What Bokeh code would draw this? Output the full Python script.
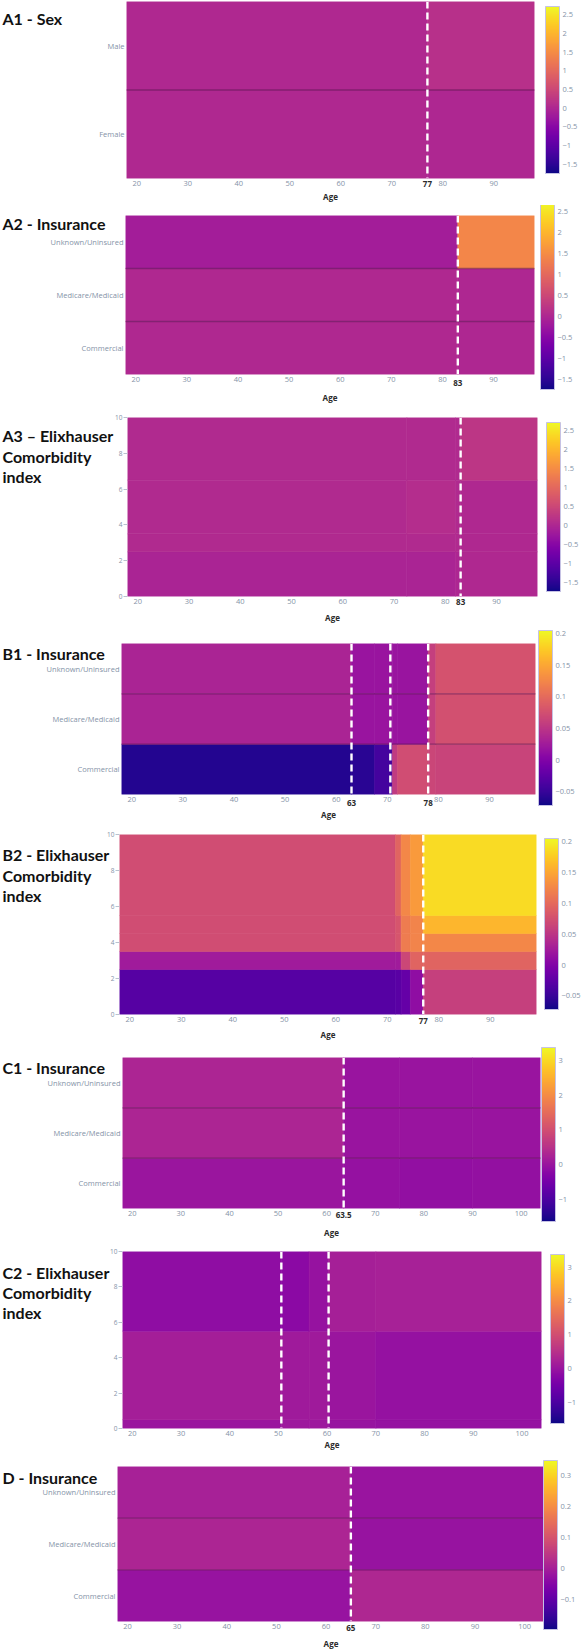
import numpy as np
from bokeh.plotting import figure
from bokeh.layouts import column
from bokeh.models import (LinearColorMapper, ColorBar, FixedTicker, Span, GridBox, Plot,
                          Range1d, ColumnDataSource, CustomJSTickFormatter)
from bokeh.core.properties import value
from bokeh.palettes import Plasma256
from bokeh.embed import file_html
from bokeh.resources import INLINE

# ---------------- data ----------------
SEX = ["Female", "Male"]                                      # bottom -> top
INSURANCE = ["Commercial", "Medicare/Medicaid", "Unknown/Uninsured"]
ELIX_TICKS = [0, 2, 4, 6, 8, 10]

AGE_TICKS_A = [20, 30, 40, 50, 60, 70, 80, 90]
AGE_TICKS_C = [20, 30, 40, 50, 60, 70, 80, 90, 100]

# A1 - Sex
A1_AGE = [18, 77, 98]
A1_Z = [[0.02, 0.00],      # Female
        [0.02, 0.15]]      # Male
A1_CUTS = [77]

# A2 - Insurance
A2_AGE = [18, 83, 98]
A2_Z = [[0.02, 0.00],      # Commercial
        [0.02, 0.00],      # Medicare/Medicaid
        [-0.16, 1.42]]     # Unknown/Uninsured
A2_CUTS = [83]

# A3 - Elixhauser comorbidity index
A3_AGE = [18, 72.5, 82, 83, 98]
A3_ELIX = [0, 2.5, 3.5, 6.5, 10]
A3_Z = [[-0.05, -0.05, -0.02, 0.02],
        [0.04, 0.04, 0.04, 0.02],
        [0.04, 0.09, 0.04, 0.02],
        [0.04, 0.04, 0.04, 0.24]]
A3_CUTS = [83]

# B1 - Insurance
B1_AGE = [18, 63, 67.5, 71, 72, 78, 79.5, 99]
B1_Z = [[-0.062, -0.058, -0.042, 0.055, 0.072, 0.066, 0.064],
        [0.033, 0.018, 0.018, 0.018, 0.018, 0.060, 0.076],
        [0.033, 0.018, 0.018, 0.018, 0.018, 0.060, 0.078]]
B1_CUTS = [63, 70.6, 78]
B1_CUT_LABELS = [63, 78]

# B2 - Elixhauser comorbidity index
B2_AGE = [18, 71.6, 72.7, 74.5, 77, 99]
B2_ELIX = [0, 2.5, 3.5, 4.5, 5.5, 10]
B2_Z = [[-0.030, -0.028, -0.019, 0.011, 0.061],
        [0.025, 0.025, 0.067, 0.094, 0.094],
        [0.072, 0.080, 0.116, 0.122, 0.125],
        [0.072, 0.080, 0.116, 0.122, 0.161],
        [0.072, 0.094, 0.125, 0.141, 0.186]]
B2_CUTS = [77]

# C1 - Insurance
C1_AGE = [18, 63.5, 75, 90, 104]
C1_Z = [[0.02, -0.05, -0.10, -0.07],
        [0.30, 0.00, 0.00, 0.00],
        [0.30, 0.00, 0.00, 0.00]]
C1_CUTS = [63.5]

# C2 - Elixhauser comorbidity index
C2_AGE = [18, 50.6, 56.3, 60.3, 70, 104]
C2_ELIX = [0, 0.5, 5.5, 10]
C2_Z = [[0.02, 0.06, 0.06, -0.02, -0.06],
        [0.17, 0.095, 0.095, 0.02, -0.05],
        [-0.13, -0.20, -0.03, 0.19, 0.21]]
C2_CUTS = [50.6, 60.3]
C2_CUT_LABELS = []

# D - Insurance
D_AGE = [18, 65, 104]
D_Z = [[-0.022, 0.016],
       [0.012, -0.022],
       [0.005, -0.020]]
D_CUTS = [65]

# colour scales
A_SCALE = (-1.75, 2.72)
A_SCALE_TICKS = [-1.5, -1, -0.5, 0, 0.5, 1, 1.5, 2, 2.5]
B_SCALE = (-0.072, 0.205)
B_SCALE_TICKS = [-0.05, 0, 0.05, 0.1, 0.15, 0.2]
C_SCALE = (-1.63, 3.37)
C_SCALE_TICKS = [-1, 0, 1, 2, 3]
D_SCALE = (-0.197, 0.348)
D_SCALE_TICKS = [-0.2, -0.1, 0, 0.1, 0.2, 0.3]

# ---------------- styling ----------------
W = 588
FONT = "Open Sans"
TITLE_FONT = "Lato"
TICK_COLOR = "#8593a7"
DARK = "#2b2b2b"

# each panel keeps its own frame box (no alignment across the stacked plots)
HAS_FRAME_ALIGN = "frame_align" in Plot.properties()
FIG_EXTRA = dict(frame_align=False) if HAS_FRAME_ALIGN else {}


def heatmap(geom, age, z, scale, scale_ticks, age_ticks, xlim, cuts,
            rows=None, yedges=None):
    h, t, b, fl, fr, cbx, cbtop, cbbot, agestand = geom

    if rows is not None:
        ylim = (-0.5, len(rows) - 0.5)
        edges = list(np.arange(len(rows) + 1) - 0.5)
    else:
        ylim = (yedges[0], yedges[-1])
        edges = yedges

    p = figure(width=W, height=h, output_backend="svg", toolbar_location=None,
               title=None, x_range=Range1d(*xlim), y_range=Range1d(*ylim),
               min_border_left=fl, min_border_right=W - fr,
               min_border_top=t, min_border_bottom=b,
               background_fill_color="white", border_fill_color="white",
               outline_line_color=None, **FIG_EXTRA)
    p.grid.visible = False

    mapper = LinearColorMapper(palette=Plasma256, low=scale[0], high=scale[1])
    left, right, bottom, top, val = [], [], [], [], []
    for j, row in enumerate(z):
        for i, v in enumerate(row):
            left.append(age[i]); right.append(age[i + 1])
            bottom.append(edges[j]); top.append(edges[j + 1]); val.append(v)
    src = ColumnDataSource(dict(left=left, right=right, bottom=bottom, top=top, z=val))
    p.quad(left="left", right="right", bottom="bottom", top="top", source=src,
           fill_color={"field": "z", "transform": mapper},
           line_color={"field": "z", "transform": mapper}, line_width=0.6)

    if rows is not None:
        for k in range(1, len(rows)):
            p.add_layout(Span(location=k - 0.5, dimension="width",
                              line_color="#5e1656", line_alpha=0.55, line_width=1.3))

    for c in cuts:
        p.add_layout(Span(location=c, dimension="height", line_color="white",
                          line_width=2.4, line_dash="7 4"))

    # x axis
    xa = p.xaxis[0]
    xa.ticker = FixedTicker(ticks=age_ticks)
    xa.axis_line_color = None
    xa.major_tick_line_color = None
    xa.minor_tick_line_color = None
    xa.major_tick_out = 0
    xa.major_tick_in = 0
    xa.major_label_standoff = 2
    xa.major_label_text_font = FONT
    xa.major_label_text_font_size = "7.5px"
    xa.major_label_text_color = TICK_COLOR
    xa.axis_label = "Age"
    xa.axis_label_text_font = FONT
    xa.axis_label_text_font_style = "bold"
    xa.axis_label_text_font_size = "8px"
    xa.axis_label_text_color = DARK
    xa.axis_label_standoff = agestand

    # y axis
    ya = p.yaxis[0]
    ya.axis_line_color = None
    ya.minor_tick_line_color = None
    ya.major_label_text_font = FONT
    ya.major_label_text_font_size = "7.5px"
    ya.major_label_text_color = TICK_COLOR
    if rows is not None:
        ya.ticker = FixedTicker(ticks=list(range(len(rows))))
        ya.major_label_overrides = {k: r for k, r in enumerate(rows)}
        ya.major_tick_line_color = None
        ya.major_tick_out = 0
        ya.major_tick_in = 0
        ya.major_label_standoff = 2
    else:
        ya.ticker = FixedTicker(ticks=ELIX_TICKS)
        ya.major_tick_line_color = "#b9c2cf"
        ya.major_tick_out = 4
        ya.major_tick_in = 0
        ya.major_label_standoff = 1
        ya.major_label_text_font_size = "6.5px"

    frame_bottom_local = h - b
    cb = ColorBar(color_mapper=mapper, ticker=FixedTicker(ticks=scale_ticks),
                  formatter=CustomJSTickFormatter(code="return String(tick).replace('-', '\u2212')"),
                  location=(cbx - fl, frame_bottom_local - cbbot), width=14, height=cbbot - cbtop,
                  padding=0, margin=0, label_standoff=3,
                  major_tick_line_color=None, minor_tick_line_color=None,
                  bar_line_color="#c6c2e4", bar_line_width=1,
                  major_label_text_font=FONT, major_label_text_font_size="7.5px",
                  major_label_text_color=TICK_COLOR,
                  background_fill_alpha=0, border_line_color=None)
    p.add_layout(cb)
    return p


def annotations(geom, xlim, title_lines, title_tops, cut_labels):
    """Transparent layer over a heatmap panel: panel title and bold cut-point labels.
    x follows the panel's age scale, y is measured in pixels from the panel top."""
    h, t, b, fl, fr = geom[:5]
    ppx = (fr - fl) / (xlim[1] - xlim[0])
    xr = Range1d(xlim[0] - fl / ppx, xlim[1] + (W - fr) / ppx)
    o = figure(width=W, height=h, output_backend="svg", toolbar_location=None,
               title=None, x_range=xr, y_range=Range1d(h, 0),
               x_axis_location=None, y_axis_location=None,
               min_border=0, min_border_left=0, min_border_right=0,
               min_border_top=0, min_border_bottom=0,
               background_fill_alpha=0, border_fill_alpha=0, outline_line_color=None,
               **FIG_EXTRA)
    o.grid.visible = False
    o.text(x=[xr.start + 2 / ppx] * len(title_lines), y=title_tops, text=title_lines,
           text_font=value(TITLE_FONT), text_font_size="16px", text_font_style="bold",
           text_color="#111111", text_baseline="alphabetic", text_align="left")
    if cut_labels:
        o.text(x=cut_labels, y=[h - b + 2] * len(cut_labels),
               text=["%g" % c for c in cut_labels],
               text_font=value(FONT), text_font_size="8px", text_font_style="bold",
               text_color=DARK, text_baseline="top", text_align="center")
    return o


# geometry: height, top, bottom, frame left, frame right, bar x, bar top, bar bottom, "Age" standoff
# (bar positions and title baselines are page coordinates)
specs = [
    dict(geom=(205, 1, 27, 126, 534, 545, 6, 173, 2), title=["A1 - Sex"], base=[18],
         age=A1_AGE, z=A1_Z, scale=A_SCALE, st=A_SCALE_TICKS, ticks=AGE_TICKS_A,
         xlim=(18, 98), cuts=A1_CUTS, cl=A1_CUTS, rows=SEX),
    dict(geom=(200, 10, 28, 125, 534, 540, 205, 392, 7), title=["A2 - Insurance"], base=[223],
         age=A2_AGE, z=A2_Z, scale=A_SCALE, st=A_SCALE_TICKS, ticks=AGE_TICKS_A,
         xlim=(18, 98), cuts=A2_CUTS, cl=A2_CUTS, rows=INSURANCE),
    dict(geom=(223, 12, 32, 127, 537, 546, 422, 591, 5),
         title=["A3 \u2013 Elixhauser", "Comorbidity", "index"], base=[435, 455.5, 476],
         age=A3_AGE, z=A3_Z, scale=A_SCALE, st=A_SCALE_TICKS, ticks=AGE_TICKS_A,
         xlim=(18, 98), cuts=A3_CUTS, cl=A3_CUTS, yedges=A3_ELIX),
    dict(geom=(194, 15, 25, 121, 535, 538, 633, 808, 4), title=["B1 - Insurance"], base=[653],
         age=B1_AGE, z=B1_Z, scale=B_SCALE, st=B_SCALE_TICKS, ticks=AGE_TICKS_A,
         xlim=(18, 99), cuts=B1_CUTS, cl=B1_CUT_LABELS, rows=INSURANCE),
    dict(geom=(220, 12, 27, 119, 536, 544, 839, 1010, 4),
         title=["B2 - Elixhauser", "Comorbidity", "index"], base=[854, 874.5, 895],
         age=B2_AGE, z=B2_Z, scale=B_SCALE, st=B_SCALE_TICKS, ticks=AGE_TICKS_A,
         xlim=(18, 99), cuts=B2_CUTS, cl=B2_CUTS, yedges=B2_ELIX),
    dict(geom=(198, 15, 31, 122, 540, 541, 1048, 1222, 8), title=["C1 - Insurance"], base=[1067],
         age=C1_AGE, z=C1_Z, scale=C_SCALE, st=C_SCALE_TICKS, ticks=AGE_TICKS_C,
         xlim=(18, 104), cuts=C1_CUTS, cl=C1_CUTS, rows=INSURANCE),
    dict(geom=(212, 11, 22, 122, 541, 550, 1256, 1425, 0),
         title=["C2 - Elixhauser", "Comorbidity", "index"], base=[1272, 1292, 1312],
         age=C2_AGE, z=C2_Z, scale=C_SCALE, st=C_SCALE_TICKS, ticks=AGE_TICKS_C,
         xlim=(18, 104), cuts=C2_CUTS, cl=C2_CUT_LABELS, yedges=C2_ELIX),
    dict(geom=(199, 14, 29, 117, 544, 543, 1461, 1630, 6), title=["D - Insurance"], base=[1477],
         age=D_AGE, z=D_Z, scale=D_SCALE, st=D_SCALE_TICKS, ticks=AGE_TICKS_C,
         xlim=(18, 104), cuts=D_CUTS, cl=D_CUTS, rows=INSURANCE),
]

children = []
top_acc = 0
for i, s in enumerate(specs):
    g = s["geom"]
    h = g[0]
    # convert page coordinates into panel-local ones
    local = (h, g[1], g[2], g[3], g[4], g[5], g[6] - top_acc, g[7] - top_acc, g[8])
    hm = heatmap(local, s["age"], s["z"], s["scale"], s["st"], s["ticks"], s["xlim"],
                 s["cuts"], rows=s.get("rows"), yedges=s.get("yedges"))
    ov = annotations(local, s["xlim"], s["title"], [y - top_acc for y in s["base"]], s["cl"])
    if HAS_FRAME_ALIGN:
        children.append((hm, i, 0))
        children.append((ov, i, 0))
    else:
        children.append((column(hm), i, 0))
        children.append((column(ov), i, 0))
    top_acc += h

layout = GridBox(children=children, spacing=0)
open("out.html", "w").write(file_html(layout, INLINE))
